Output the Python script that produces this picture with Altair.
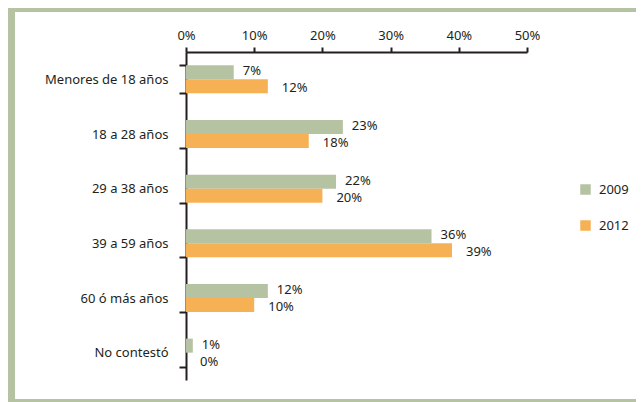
import altair as alt
import pandas as pd

categories = ["Menores de 18 años", "18 a 28 años", "29 a 38 años",
              "39 a 59 años", "60 ó más años", "No contestó"]
years = ["2009", "2012"]
v2009 = [7, 23, 22, 36, 12, 1]
v2012 = [12, 18, 20, 39, 10, 0]
x_ticks = [0, 10, 20, 30, 40, 50]

rows = []
for c, a, b in zip(categories, v2009, v2012):
    rows.append({"cat": c, "year": years[0], "v": a, "lab": f"{a}%"})
    rows.append({"cat": c, "year": years[1], "v": b, "lab": f"{b}%"})
df = pd.DataFrame(rows)

GREEN = "#b5c3a3"
ORANGE = "#f6b155"
INK = "#231f20"
FONT = "Noto Sans"

y_enc = alt.Y("cat:N", sort=categories,
              scale=alt.Scale(paddingInner=0.487, paddingOuter=0.2435),
              axis=alt.Axis(title=None, tickBand="extent", tickSize=7,
                            labelPadding=11, domainWidth=2, tickWidth=2,
                            domainColor=INK, tickColor=INK, labelColor=INK,
                            labelFontSize=13, labelFont=FONT, labelLimit=250))
x_enc = alt.X("v:Q", scale=alt.Scale(domain=[0, 50]),
              axis=alt.Axis(title=None, orient="top", values=x_ticks,
                            labelExpr="datum.value + '%'", grid=False,
                            labelFlush=False, labelOverlap=False,
                            tickSize=5, labelPadding=5, domainWidth=2,
                            tickWidth=2, domainColor=INK, tickColor=INK,
                            labelColor=INK, labelFontSize=13, labelFont=FONT))
yoff = alt.YOffset("year:N", sort=years,
                   scale=alt.Scale(paddingInner=0, paddingOuter=0))

base = alt.Chart(df)

bars = base.mark_bar().encode(
    x=x_enc, y=y_enc, yOffset=yoff,
    color=alt.Color("year:N", sort=years,
                    scale=alt.Scale(domain=years, range=[GREEN, ORANGE]),
                    legend=alt.Legend(title=None, orient="none", legendX=393,
                                      legendY=131, symbolType="square",
                                      symbolSize=110, symbolStrokeWidth=0,
                                      labelFontSize=13, labelFont=FONT,
                                      labelColor=INK, labelOffset=7,
                                      rowPadding=22, padding=0)),
)

t09 = base.transform_filter(alt.datum.year == "2009").mark_text(
    align="left", baseline="middle", dx=9, dy=-1, fontSize=13, font=FONT,
    color=INK).encode(x="v:Q", y=alt.Y("cat:N", sort=categories),
                      yOffset=yoff, text="lab:N")
t12 = base.transform_filter(alt.datum.year == "2012").mark_text(
    align="left", baseline="middle", dx=14, dy=2, fontSize=13, font=FONT,
    color=INK).encode(x="v:Q", y=alt.Y("cat:N", sort=categories),
                      yOffset=yoff, text="lab:N")

one = alt.Data(values=[{}])
frame_left = alt.Chart(one).mark_rule(color=GREEN, strokeWidth=8).encode(
    x=alt.value(-175), y=alt.value(-60), y2=alt.value(360))
frame_top = alt.Chart(one).mark_rule(color=GREEN, strokeWidth=8).encode(
    x=alt.value(-179), x2=alt.value(470), y=alt.value(-44))
frame_bot = alt.Chart(one).mark_rule(color=GREEN, strokeWidth=4).encode(
    x=alt.value(-179), x2=alt.value(470), y=alt.value(349))

chart = alt.layer(frame_left, frame_top, frame_bot, bars, t09, t12).properties(
    width=341, height=328,
    autosize=alt.AutoSizeParams(type="none"),
    padding={"left": 178, "top": 44, "right": 109, "bottom": 22},
    background="white",
).configure_view(strokeWidth=0, stroke="transparent")

chart.save("out.html", embed_options={"renderer": "svg", "actions": False})
